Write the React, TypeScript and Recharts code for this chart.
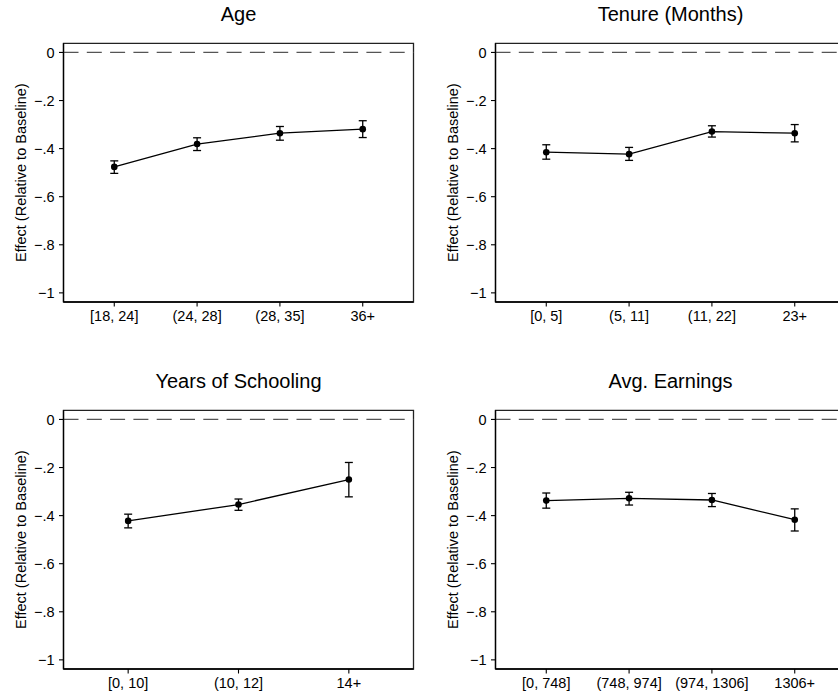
import { LineChart, Line, XAxis, YAxis, ErrorBar, ReferenceLine, ReferenceArea, Label } from 'recharts'

const yTicks = [0, -0.2, -0.4, -0.6, -0.8, -1]

const ageCats = ['[18, 24]', '(24, 28]', '(28, 35]', '36+']
const ageEst = [-0.476, -0.381, -0.336, -0.319]
const ageLo = [-0.503, -0.408, -0.365, -0.354]
const ageHi = [-0.451, -0.355, -0.308, -0.284]

const tenureCats = ['[0, 5]', '(5, 11]', '(11, 22]', '23+']
const tenureEst = [-0.415, -0.423, -0.329, -0.336]
const tenureLo = [-0.444, -0.449, -0.352, -0.372]
const tenureHi = [-0.384, -0.395, -0.305, -0.3]

const schoolCats = ['[0, 10]', '(10, 12]', '14+']
const schoolEst = [-0.422, -0.354, -0.25]
const schoolLo = [-0.451, -0.378, -0.322]
const schoolHi = [-0.394, -0.331, -0.179]

const earnCats = ['[0, 748]', '(748, 974]', '(974, 1306]', '1306+']
const earnEst = [-0.3375, -0.328, -0.335, -0.417]
const earnLo = [-0.369, -0.356, -0.3625, -0.464]
const earnHi = [-0.306, -0.303, -0.308, -0.372]

const FONT = '"Liberation Sans", Arial, Helvetica, sans-serif'
const W = 420
const H = 340
const PLOT_LEFT = 63.5
const PLOT_TOP = 43.3
const PLOT_W = 350
const Y_DOMAIN: [number, number] = [-1.038, 0.038]

const fmtY = (v: number) => {
    if (v === 0) return '0'
    if (v === -1) return '\u22121'
    return '\u2212' + String(Math.abs(v)).replace(/^0/, '')
}

interface PanelProps {
    title: string
    cats: string[]
    est: number[]
    lo: number[]
    hi: number[]
    left: number
    top: number
    pad: number
}

function Panel({ title, cats, est, lo, hi, left, top, pad }: PanelProps) {
    const data = cats.map((c, i) => ({
        x: i + 1,
        y: est[i],
        err: [est[i] - lo[i], hi[i] - est[i]]
    }))
    const xDomain: [number, number] = [1 - pad, cats.length + pad]
    const xTicks = cats.map((_, i) => i + 1)

    return (
        <div style={{ position: 'absolute', left, top, width: W, height: H }}>
            <div
                style={{
                    position: 'absolute',
                    left: PLOT_LEFT,
                    width: PLOT_W,
                    top: 3.8,
                    textAlign: 'center',
                    fontFamily: FONT,
                    fontSize: 20,
                    lineHeight: '20px',
                    color: '#000',
                    whiteSpace: 'nowrap'
                }}
            >
                {title}
            </div>
            <LineChart
                width={W}
                height={H}
                data={data}
                margin={{ top: PLOT_TOP, right: W - PLOT_LEFT - PLOT_W, bottom: 0, left: 0 }}
            >
                <ReferenceArea
                    x1={xDomain[0]}
                    x2={xDomain[1]}
                    y1={Y_DOMAIN[0]}
                    y2={Y_DOMAIN[1]}
                    fill="none"
                    stroke="#222"
                    strokeWidth={1.3}
                    ifOverflow="visible"
                />
                <XAxis
                    dataKey="x"
                    type="number"
                    domain={xDomain}
                    ticks={xTicks}
                    allowDataOverflow
                    height={H - PLOT_TOP - 258.7}
                    tickFormatter={(v: number) => cats[v - 1] ?? ''}
                    tick={{ fill: '#000', fontSize: 14.5, fontFamily: FONT }}
                    tickSize={4.5}
                    tickMargin={4}
                    axisLine={{ stroke: '#000', strokeWidth: 1.3 }}
                    tickLine={{ stroke: '#000', strokeWidth: 1.1 }}
                    interval={0}
                />
                <YAxis
                    type="number"
                    domain={Y_DOMAIN}
                    ticks={yTicks}
                    allowDataOverflow
                    width={PLOT_LEFT}
                    tickFormatter={fmtY}
                    tick={{ fill: '#000', fontSize: 14.5, fontFamily: FONT }}
                    tickSize={4.5}
                    tickMargin={4.5}
                    axisLine={{ stroke: '#000', strokeWidth: 1.3 }}
                    tickLine={{ stroke: '#000', strokeWidth: 1.1 }}
                >
                    <Label
                        content={(props: any) => {
                            const vb = props.viewBox || {}
                            const cx = (vb.x ?? 0) + 21.5
                            const cy = (vb.y ?? PLOT_TOP) + (vb.height ?? 258.7) / 2
                            return (
                                <text
                                    x={cx}
                                    y={cy}
                                    transform={`rotate(-90 ${cx} ${cy})`}
                                    textAnchor="middle"
                                    dominantBaseline="central"
                                    fontFamily={FONT}
                                    fontSize={14.5}
                                    fill="#000"
                                >
                                    Effect (Relative to Baseline)
                                </text>
                            )
                        }}
                    />
                </YAxis>
                {/* dashed zero baseline */}
                <ReferenceLine y={0} stroke="#555" strokeWidth={1.3} strokeDasharray="15 8.3" />
                <Line
                    dataKey="y"
                    stroke="#000"
                    strokeWidth={1.3}
                    dot={{ r: 3.3, fill: '#000', stroke: '#000', strokeWidth: 0 }}
                    activeDot={false}
                    isAnimationActive={false}
                >
                    <ErrorBar dataKey="err" width={4} stroke="#000" strokeWidth={1.3} direction="y" isAnimationActive={false} />
                </Line>
            </LineChart>
        </div>
    )
}

export default function App() {
    return (
        <div
            style={{
                position: 'absolute',
                left: 0,
                top: 0,
                width: 838,
                height: 700,
                overflow: 'hidden',
                background: '#fff'
            }}
        >
            <Panel title="Age" cats={ageCats} est={ageEst} lo={ageLo} hi={ageHi} left={0} top={0} pad={0.613} />
            <Panel title="Tenure (Months)" cats={tenureCats} est={tenureEst} lo={tenureLo} hi={tenureHi} left={432} top={0} pad={0.613} />
            <Panel title="Years of Schooling" cats={schoolCats} est={schoolEst} lo={schoolLo} hi={schoolHi} left={0} top={367.4} pad={0.586} />
            <Panel title="Avg. Earnings" cats={earnCats} est={earnEst} lo={earnLo} hi={earnHi} left={432} top={367.4} pad={0.613} />
        </div>
    )
}
